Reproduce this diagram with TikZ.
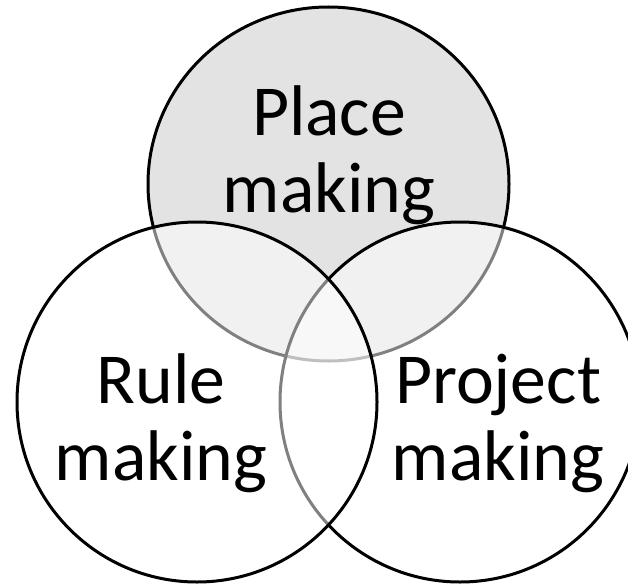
\documentclass[tikz,border=0pt]{standalone}
\usepackage{fontspec}
\setmainfont{Carlito}
\definecolor{placegray}{RGB}{227,227,227}
\begin{document}
\begin{tikzpicture}[x=1bp,y=-1bp,
    ring/.style={draw=black,line width=3bp},
    veil/.style={ring,fill=white,fill opacity=0.5},
    word/.style={align=center,inner sep=0pt,anchor=base,font=\fontsize{72}{77}\selectfont}]
\useasboundingbox (0,0) rectangle (628,584);
\clip (0,0) rectangle (628,584);

% the three rings, top one shaded, the lower two veil what lies under them
\draw[ring,fill=placegray] (328.5,184) ellipse [x radius=180.5, y radius=177];
\draw[veil] (460,402) circle [radius=180];
\draw[veil] (197,402) circle [radius=180];

% base sits on the last line
\node[word] (place) at (329,212) {Place\\making};
\node[word] (rule) at (161,480) {Rule\\making};
\node[word] (project) at (498,480) {Project\\making};
\end{tikzpicture}
\end{document}
